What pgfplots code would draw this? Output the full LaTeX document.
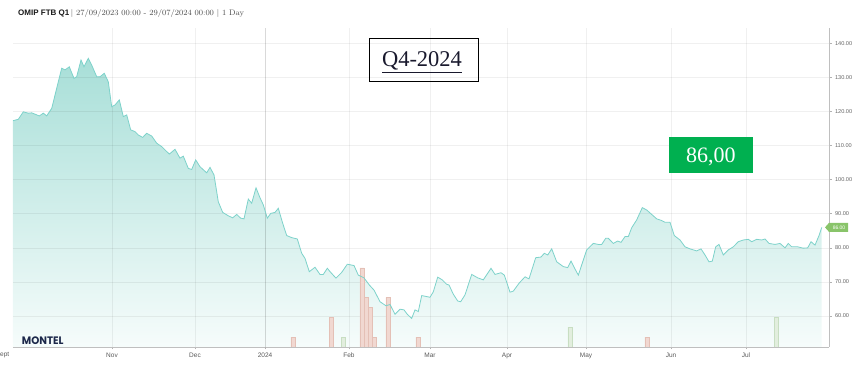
\documentclass[border=0pt]{standalone}
\usepackage{fontspec}
\usepackage{graphicx}
\usepackage{pgfplots}
\pgfplotsset{compat=1.18}
\usepackage{pgfplotstable}
\newfontfamily\lsans{Liberation Sans}
\newfontfamily\lserif{Liberation Serif}
\newfontfamily\pop{Poppins}
\definecolor{linec}{RGB}{125,210,202}
\definecolor{areatop}{RGB}{168,223,216}
\definecolor{areabot}{RGB}{246,252,251}
\definecolor{barred}{RGB}{241,216,209}
\definecolor{barrededge}{RGB}{228,192,182}
\definecolor{bargreen}{RGB}{226,238,222}
\definecolor{bargreenedge}{RGB}{200,222,194}
\definecolor{tagc}{RGB}{137,196,106}
\definecolor{boxgreen}{RGB}{0,176,80}
\definecolor{montelc}{RGB}{28,40,74}

\pgfplotstableread{
x y
13 117.3
18.3 117.7
23.3 119.9
28.3 119.5
31.7 119.6
39.3 118.7
43.3 119.5
46.7 118.7
51.7 120.9
56.7 126.8
61.7 132.7
65 132.2
69.3 133.1
74 129.7
76.7 130.2
81 135.1
84 133.1
88.3 135.6
91.7 133.6
96.7 130.2
100 130.2
104.3 131.2
108.3 128.7
111.7 121.4
115 121.9
119.3 123.4
123.3 118.5
126.7 119.0
130.7 114.6
135 114.1
138.3 113.1
142.7 112.4
146.7 113.6
151.7 112.8
156.7 110.7
161.7 109.7
169.3 107.5
175 108.9
180 106.3
183.3 106.9
188.3 103.3
191.7 103.0
195.7 105.8
200 103.8
206.7 102.0
210 103.6
214 101.4
218.3 93.5
222.7 90.4
228.3 89.4
232.7 88.8
236.7 89.8
240.7 88.7
244 88.5
248.3 94.3
251.7 93.1
256 97.6
260 94.7
263.3 92.6
267.3 88.7
270.7 90.1
275 90.4
278.3 91.6
282.7 87.2
286.7 83.6
291.7 83.0
297.3 82.6
301.7 78.4
305 76.9
309.3 73.0
315 74.3
320 72.2
323.3 72.2
327.3 74.0
330.7 72.8
336 71.1
341.7 72.8
347.3 75.2
354 74.8
358.3 72.0
364 71.2
369.3 69.1
374 67.6
380 64.2
386 63.0
390 63.4
395 60.5
400 62.0
404 61.8
407.3 60.5
411.7 59.3
415 61.8
418.3 61.3
421.7 66.0
430 65.5
433.3 67.1
437.7 71.4
442.3 70.6
446.7 69.3
449 69.1
453.3 66.4
457.7 64.4
460.7 64.2
465 66.2
471.7 72.2
477.7 71.2
483.3 70.6
491 74.0
495 72.2
501 72.7
504.3 72.0
510 67.0
513.3 67.3
519 69.6
525 71.5
529 70.9
535.7 77.1
541 77.3
544.3 78.4
547.7 77.9
551.7 79.7
556.7 75.9
563.3 74.5
567.7 74.2
571 76.1
575 73.8
578.3 72.0
581.7 75.0
586.7 79.4
593.3 81.3
598.3 81.0
601.7 81.0
605.7 82.8
608.3 82.8
613.3 81.3
617.7 82.0
621 81.6
625 83.3
628.3 83.3
631.7 85.9
636.7 88.2
642.3 91.8
646.7 91.1
651.7 89.8
656.7 88.5
661.7 88.0
665 87.5
670 87.5
674.3 83.6
680 82.3
685 80.3
690 79.7
696.7 79.1
701 79.7
705 77.9
709 75.9
712.3 76.1
715.7 80.3
719 81.0
723.3 77.9
728.3 79.4
733.3 80.3
738.3 81.8
743.3 82.3
748.3 82.5
751.7 81.8
756.7 82.5
761.7 82.3
765 82.6
769 81.3
775 81.0
780 81.3
785 80.0
788.3 81.3
791.7 80.3
797.7 80.3
803.3 79.9
807.7 80.0
811 81.8
815 80.8
819 83.6
821.7 86.0
}\price

\begin{document}
\begin{tikzpicture}
\path[use as bounding box] (0pt,0pt) rectangle (858pt,366pt);

% main axis: grid, ticks, area
\begin{axis}[
  at={(13pt,19pt)}, anchor=south west, scale only axis,
  width=816pt, height=319pt,
  xmin=13, xmax=829, ymin=50.91, ymax=144.49,
  axis on top,
  axis x line*=bottom, axis y line*=right,
  axis line style={black!25, line width=0.8pt, -},
  xtick={112,195,349,430,507,586,671,746},
  xticklabels={Nov,Dec,Feb,Mar,Apr,May,Jun,Jul},
  extra x ticks={265}, extra x tick labels={2024},
  extra x tick style={grid style={black, opacity=0.15, line width=0.9pt}},
  ytick={60,70,...,140},
  yticklabel={\pgfmathprintnumber[fixed,fixed zerofill,precision=2,assume math mode=true]{\tick}},
  xmajorgrids, ymajorgrids,
  grid style={black, opacity=0.06, line width=0.6pt},
  tick align=outside, major tick length=2.5pt,
  tick style={black!30, line width=0.5pt},
  xticklabel style={font=\lsans\fontsize{6.5}{7}\selectfont, text=black!65},
  yticklabel style={font=\lsans\fontsize{5.6}{6}\selectfont, text=black!60},
]
\addplot[draw=none, top color=areatop, bottom color=areabot] table {\price}
  -- (axis cs:821.7,50.91) -- (axis cs:13,50.91) -- cycle;
\end{axis}

% volume bars
\begin{axis}[
  at={(13pt,19pt)}, anchor=south west, scale only axis,
  width=816pt, height=319pt,
  xmin=13, xmax=829, ymin=0, ymax=32.22,
  hide axis, ybar, bar width=4.2pt,
]
\addplot[bar shift=0pt, fill=barred, draw=barrededge, line width=0.4pt]
  coordinates {(293,1) (331.3,3) (362,8) (366,5) (370,4) (374,1) (388,5) (418,1) (647,1)};
\addplot[bar shift=0pt, fill=bargreen, draw=bargreenedge, line width=0.4pt]
  coordinates {(343.3,1) (570,2) (776.5,3)};
\end{axis}

% price line
\begin{axis}[
  at={(13pt,19pt)}, anchor=south west, scale only axis,
  width=816pt, height=319pt,
  xmin=13, xmax=829, ymin=50.91, ymax=144.49,
  hide axis, clip=false,
]
\addplot[linec, line width=0.8pt, mark=none] table {\price};
\fill[tagc] ([xshift=-4pt]axis cs:829,86) -- ++(4pt,4.5pt) -- ++(19pt,0pt) -- ++(0pt,-9pt) -- ++(-19pt,0pt) -- cycle;
\node[font=\lsans\fontsize{5}{5}\selectfont, text=white, inner sep=0] at ([xshift=10pt]axis cs:829,86) {86.00};
\end{axis}

\begin{scope}[x=1pt,y=1pt]
% first (cut) month label
\node[font=\lsans\fontsize{6.5}{7}\selectfont, text=black!65, anchor=base] at (2.5,9.5) {Sept};

% title
\node[anchor=base west, inner sep=0] at (18,350)
  {{\lsans\bfseries\fontsize{8}{9}\selectfont\color{black!90}OMIP FTB Q1}\,{\fontsize{8}{9}\selectfont\color{black!70}| \oldstylenums{27/09/2023 00:00 - 29/07/2024 00:00} | \oldstylenums{1} Day}};

% Q4-2024 box
\draw[black, line width=0.9pt] (369.3,327.7) rectangle (478.3,285);
\node[anchor=base, inner sep=0, text={rgb,255:red,25;green,25;blue,45}] at (422,299.3)
  {\lserif\fontsize{22.5}{24}\selectfont\underline{Q4-2024}};

% 86,00 box
\fill[boxgreen] (669,229) rectangle (752.5,192.5);
\node[anchor=base, inner sep=0, text=white] at (710.8,203.5)
  {\lserif\fontsize{22}{24}\selectfont 86,00};

% logo
\node[anchor=south west, inner sep=0] at (21.7,21)
  {\resizebox{41.6pt}{7.7pt}{\color{montelc}\pop\bfseries MONTEL}};
\end{scope}
\end{tikzpicture}
\end{document}
